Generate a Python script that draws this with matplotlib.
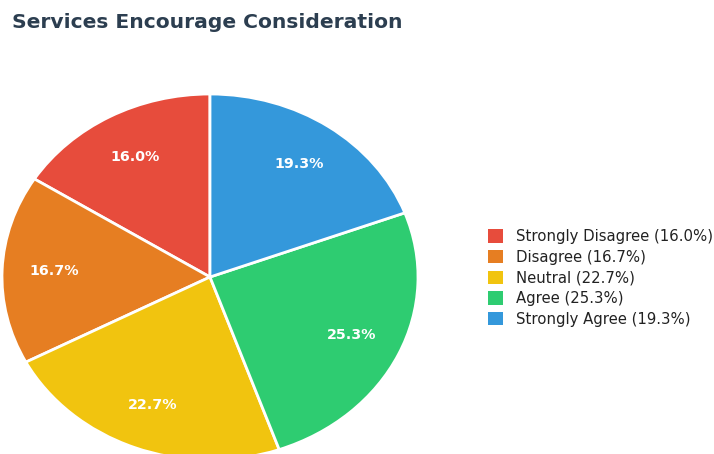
import matplotlib
matplotlib.use("Agg")
import matplotlib.pyplot as plt
from matplotlib.patches import Patch

categories = ["Strongly Disagree", "Disagree", "Neutral", "Agree", "Strongly Agree"]
shares = [16.0, 16.7, 22.7, 25.3, 19.3]
colors = ["#e74c3c", "#e67e22", "#f1c40f", "#2ecc71", "#3498db"]
title = "Services Encourage Consideration"

W, H = 714, 454
fig = plt.figure(figsize=(W / 100, H / 100), dpi=100)
fig.patch.set_facecolor("white")

# pie axes (slightly wider than tall, so the pie is drawn as an ellipse)
cx, cy, rx, ry = 210, 277, 208, 183
ax = fig.add_axes([(cx - rx) / W, 1 - (cy + ry) / H, 2 * rx / W, 2 * ry / H])
wedges, texts, autotexts = ax.pie(
    shares,
    colors=colors,
    startangle=90,
    counterclock=True,
    autopct="%.1f%%",
    pctdistance=0.75,
    radius=1.0,
    wedgeprops=dict(edgecolor="white", linewidth=2),
    textprops=dict(color="white", fontsize=10.3, fontweight="bold"),
)
ax.set_aspect("auto")
ax.set_xlim(-1, 1)
ax.set_ylim(-1, 1)
ax.axis("off")
for w in wedges:
    w.set_clip_on(False)

fig.text(12 / W, 1 - 22 / H, title, fontsize=14.6, fontweight="bold",
         color="#2c3e50", ha="left", va="center")

handles = [Patch(facecolor=c, edgecolor="none") for c in colors]
labels = [f"{c} ({v:.1f}%)" for c, v in zip(categories, shares)]
fig.legend(handles, labels, loc="center left", bbox_to_anchor=(478 / W, 1 - 278 / H),
           frameon=False, fontsize=10.7, handlelength=1.0, handleheight=1.0,
           handletextpad=0.85, labelspacing=0.38, borderpad=0.2,
           labelcolor="#222222")

fig.savefig("out.png", dpi=100, facecolor="white")
